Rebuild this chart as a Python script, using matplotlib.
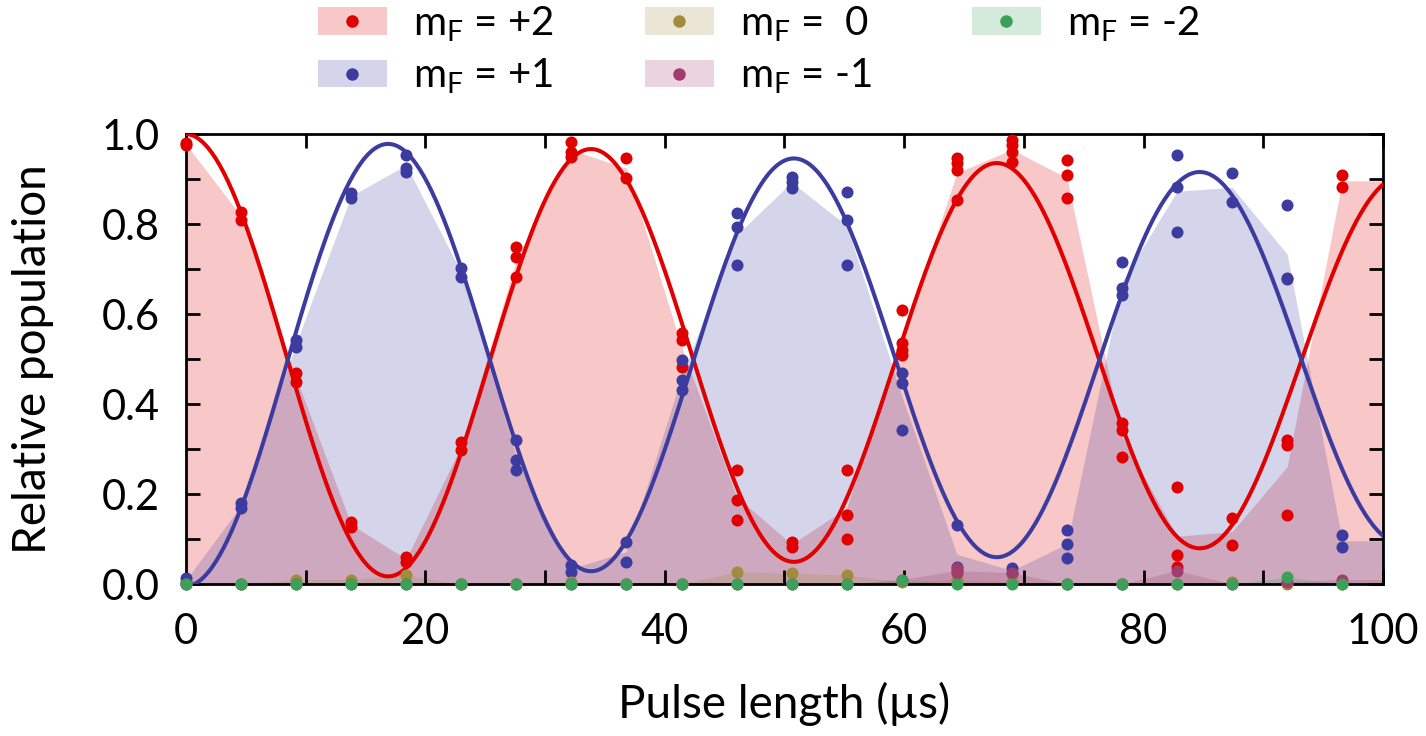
import numpy as np
import matplotlib
matplotlib.use("Agg")
import matplotlib.pyplot as plt
from matplotlib.patches import Patch
from matplotlib.lines import Line2D
from matplotlib.ticker import MultipleLocator, FormatStrFormatter
from matplotlib.colors import to_rgba

plt.rcParams['font.family'] = ['Lato', 'DejaVu Sans']
plt.rcParams['mathtext.fontset'] = 'custom'
plt.rcParams['mathtext.rm'] = 'Lato'

# ---------------- data ----------------
pulse_us = [0, 4.6, 9.2, 13.8, 18.4, 23.0, 27.6, 32.2, 36.8, 41.4, 46.0,
            50.6, 55.2, 59.8, 64.4, 69.0, 73.6, 78.2, 82.8, 87.4, 92.0, 96.6]

mf_p2 = [[0.98, 0.975], [0.827, 0.809], [0.468, 0.450], [0.138, 0.127],
         [0.061, 0.050], [0.316, 0.298], [0.750, 0.727, 0.683],
         [0.983, 0.961, 0.950], [0.946, 0.902], [0.557, 0.542, 0.483],
         [0.253, 0.187, 0.142], [0.094, 0.083], [0.253, 0.153, 0.101],
         [0.609, 0.535, 0.520, 0.509], [0.946, 0.935, 0.920, 0.853],
         [0.987, 0.976, 0.961, 0.938], [0.942, 0.909, 0.857],
         [0.357, 0.342, 0.283], [0.216, 0.064, 0.038], [0.146, 0.087],
         [0.320, 0.309, 0.153], [0.909, 0.883]]

mf_p1 = [[0.013, 0.005], [0.179, 0.169], [0.542, 0.527], [0.868, 0.857],
         [0.953, 0.925, 0.915], [0.702, 0.683], [0.320, 0.276, 0.253],
         [0.042, 0.027], [0.094, 0.050], [0.498, 0.453, 0.431],
         [0.824, 0.794, 0.709], [0.905, 0.894, 0.879], [0.872, 0.809, 0.709],
         [0.468, 0.446, 0.342], [0.131, 0.038, 0.030], [0.035, 0.025],
         [0.120, 0.090, 0.057], [0.716, 0.657, 0.642], [0.953, 0.883, 0.783],
         [0.913, 0.850], [0.842, 0.677, 0.680], [0.109, 0.083]]

mf_0 = [[0.0], [0.0], [0.010], [0.010], [0.020], [0.0], [0.0], [0.005],
        [0.0], [0.0], [0.027], [0.024], [0.020], [0.005], [0.010], [0.005],
        [0.0], [0.0], [0.0], [0.005], [0.0], [0.0]]

mf_m1 = [[0.0], [0.0], [0.0], [0.0], [0.0], [0.0], [0.0], [0.0], [0.0],
         [0.0], [0.0], [0.0], [0.0], [0.010], [0.035, 0.025], [0.025], [0.0],
         [0.0], [0.030], [0.0], [0.005], [0.010]]

mf_m2 = [[0.0], [0.0], [0.0], [0.0], [0.0], [0.0], [0.0], [0.0], [0.0],
         [0.0], [0.0], [0.0], [0.0], [0.010], [0.0], [0.0], [0.0], [0.0],
         [0.0], [0.0], [0.015], [0.0]]

# damped Rabi-fit parameters
fit_period = 33.9
fit_decay = 490.0
fit_amp = 0.5
fit_offset_p2 = 0.5
fit_offset_p1 = 0.495

labels = ['m$_\\mathregular{F}$ = +2', 'm$_\\mathregular{F}$ = +1',
          'm$_\\mathregular{F}$ =  0', 'm$_\\mathregular{F}$ = -1',
          'm$_\\mathregular{F}$ = -2']
colors = ['#e00000', '#3c3ca0', '#a08c3c', '#a03c6e', '#3ca05a']
series = [mf_p2, mf_p1, mf_0, mf_m1, mf_m2]
fill_alpha = 0.22

# ---------------- figure ----------------
fig = plt.figure(figsize=(14.26, 7.36), dpi=100)
ax = fig.add_axes([0.1304, 0.2065, 0.8394, 0.6114])

x_fill = list(pulse_us) + [100.0]
for vals, c in zip(series, colors):
    means = [float(np.mean(v)) for v in vals]
    means = means + [means[-1]]
    ax.fill_between(x_fill, 0, means, color=c, alpha=fill_alpha, lw=0, zorder=1)

xs = np.linspace(0, 100, 600)
osc = fit_amp * np.exp(-xs / fit_decay) * np.cos(2 * np.pi * xs / fit_period)
ax.plot(xs, fit_offset_p2 + osc, color=colors[0], lw=2.9, zorder=3)
ax.plot(xs, fit_offset_p1 - osc, color=colors[1], lw=2.9, zorder=3)

for vals, c in zip(series, colors):
    px, py = [], []
    for xv, v in zip(pulse_us, vals):
        for yv in v:
            px.append(xv)
            py.append(yv)
    ax.scatter(px, py, s=75, color=c, lw=0, zorder=4, clip_on=False)

ax.set_xlim(0, 100)
ax.set_ylim(0, 1.0)
ax.xaxis.set_major_locator(MultipleLocator(20))
ax.xaxis.set_minor_locator(MultipleLocator(10))
ax.yaxis.set_major_locator(MultipleLocator(0.2))
ax.yaxis.set_minor_locator(MultipleLocator(0.1))
ax.yaxis.set_major_formatter(FormatStrFormatter('%.1f'))
ax.tick_params(which='both', direction='in', top=True, right=True,
               length=10, width=2, labelsize=30)
ax.tick_params(axis='x', which='both', pad=21)
ax.tick_params(axis='y', which='both', pad=19)
for s in ax.spines.values():
    s.set_linewidth(2)

ax.set_xlabel('Pulse length (\u00b5s)', fontsize=33, labelpad=22)
ax.set_ylabel('Relative population', fontsize=33, labelpad=34)

handles = []
for c in colors:
    handles.append((Patch(facecolor=to_rgba(c, fill_alpha), edgecolor='none'),
                    Line2D([], [], marker='o', ls='', color=c, ms=9, mew=0)))

col_groups = [[0, 1], [2, 3], [4]]
col_left_px = [318, 645, 972]
for grp, xl in zip(col_groups, col_left_px):
    fig.legend([handles[i] for i in grp], [labels[i] for i in grp],
               loc='upper left', bbox_to_anchor=(xl / 1426, 1 - 4 / 736),
               frameon=False, fontsize=29, borderpad=0, borderaxespad=0,
               handlelength=1.71, handleheight=0.67, handletextpad=0.65,
               labelspacing=0.32)

fig.savefig('out.png', dpi=100)
